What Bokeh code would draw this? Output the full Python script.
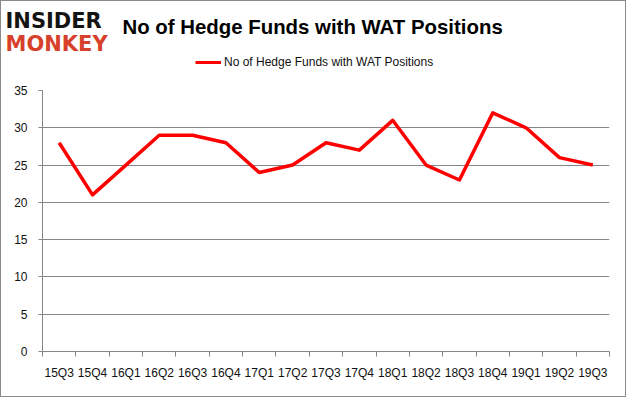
from bokeh.plotting import figure
from bokeh.layouts import column
from bokeh.models import FixedTicker, Label, Legend, LegendItem, Range1d
from bokeh.embed import file_html
from bokeh.resources import INLINE

quarters = ["15Q3", "15Q4", "16Q1", "16Q2", "16Q3", "16Q4", "17Q1", "17Q2", "17Q3",
            "17Q4", "18Q1", "18Q2", "18Q3", "18Q4", "19Q1", "19Q2", "19Q3"]
funds = [28, 21, 25, 29, 29, 28, 24, 25, 28, 27, 31, 25, 23, 32, 30, 26, 25]
y_ticks = [0, 5, 10, 15, 20, 25, 30, 35]
title_text = "No of Hedge Funds with WAT Positions"

n = len(quarters)
xs = [i + 0.5 for i in range(n)]

FONT = "Liberation Sans"
GRAY = "#868686"
BORDER = "1px solid #8a8a8a"
RED = "#ff0000"
TXT = "#111111"

# ---------- header (logo, title, legend) ----------
HW, HH = 624, 79
header = figure(width=HW, height=HH, output_backend="svg", toolbar_location=None,
                x_range=Range1d(1, 1 + HW), y_range=Range1d(1 + HH, 1),
                x_axis_type=None, y_axis_type=None, min_border=0)
header.outline_line_color = None
header.background_fill_color = "white"
header.border_fill_color = "white"

header.add_layout(Label(x=5, y=20, text="INSIDER", text_font="DejaVu Sans",
                        text_font_style="bold", text_font_size="21px",
                        text_color="#141414", text_baseline="alphabetic"))
header.add_layout(Label(x=5, y=43, text="MONKEY", text_font="DejaVu Sans",
                        text_font_style="bold", text_font_size="21px",
                        text_color="#d7402b", text_baseline="alphabetic"))
header.add_layout(Label(x=122, y=26, text=title_text, text_font=FONT,
                        text_font_style="bold", text_font_size="20.4px",
                        text_color="#000000", text_baseline="alphabetic"))

# invisible stand-in renderer that only provides the legend key
dummy = header.line(x=[float("nan")], y=[float("nan")], line_color=RED, line_width=3)
legend = Legend(items=[LegendItem(label=title_text, renderers=[dummy])],
                location=(194, 11), orientation="horizontal",
                glyph_width=26, glyph_height=14, label_height=14,
                label_standoff=3, padding=0, margin=0, spacing=0,
                label_text_font=FONT, label_text_font_size="12px",
                label_text_color=TXT, background_fill_alpha=0,
                border_line_color=None)
header.add_layout(legend)

# ---------- main chart ----------
W, H = 624, 316
p = figure(width=W, height=H, output_backend="svg", toolbar_location=None,
           x_range=Range1d(0, n), y_range=Range1d(0, 35),
           min_border_left=41, min_border_right=16, min_border_top=10,
           min_border_bottom=45)
p.outline_line_color = None
p.background_fill_color = "white"
p.border_fill_color = "white"

p.line(xs, funds, line_color=RED, line_width=3.5, line_join="round")

xa = p.xaxis[0]
xa.ticker = FixedTicker(ticks=xs, minor_ticks=list(range(n + 1)))
xa.major_label_overrides = {x: q for x, q in zip(xs, quarters)}
xa.major_tick_out = 0
xa.major_tick_in = 0
xa.minor_tick_out = 5
xa.minor_tick_in = 0
xa.minor_tick_line_color = GRAY
xa.axis_line_color = GRAY
xa.major_label_standoff = 9
xa.major_label_text_font = FONT
xa.major_label_text_font_size = "12px"
xa.major_label_text_color = TXT

ya = p.yaxis[0]
ya.ticker = FixedTicker(ticks=y_ticks)
ya.minor_tick_line_color = None
ya.major_tick_out = 4
ya.major_tick_in = 0
ya.major_tick_line_color = GRAY
ya.axis_line_color = GRAY
ya.major_label_standoff = 11
ya.major_label_text_font = FONT
ya.major_label_text_font_size = "12px"
ya.major_label_text_color = TXT

p.xgrid.grid_line_color = None
p.ygrid.ticker = FixedTicker(ticks=y_ticks)
p.ygrid.grid_line_color = GRAY
p.ygrid.grid_line_width = 1

top = column(header, spacing=0)
top.styles = {"border-top": BORDER, "border-left": BORDER, "border-right": BORDER,
              "background-color": "white"}
bottom = column(p, spacing=0)
bottom.styles = {"border-bottom": BORDER, "border-left": BORDER, "border-right": BORDER,
                 "background-color": "white"}

open("out.html", "w").write(file_html([top, bottom], INLINE))
